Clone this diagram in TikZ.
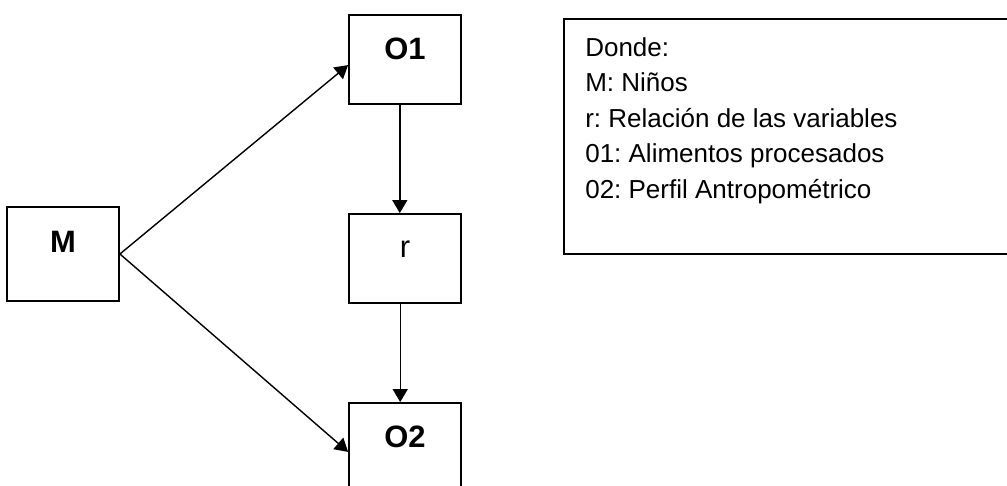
\documentclass[tikz,border=0pt]{standalone}
\usepackage{fontspec}
\setmainfont{Liberation Sans}
\usetikzlibrary{arrows.meta, positioning}
\frenchspacing

\tikzset{
  box/.style={draw, line width=1.3pt, minimum width=2.8cm, inner sep=0pt,
    font=\fontsize{22}{26}\selectfont},
  arr/.style={line width=1pt, -{Triangle[length=0.325cm, width=0.375cm]}},
  legendbox/.style={draw, line width=1.3pt, anchor=north west,
    minimum width=11.225cm, minimum height=5.875cm},
}

\begin{document}
\begin{tikzpicture}
\clip (0,0) rectangle (25.175,12.125);

\node[box, text height=1.15cm, text depth=1.2cm] (m) at (1.575,5.775) {\textbf{M}};
\node[box, text height=1.125cm, text depth=1.1cm] (o1) at (10.125,10.6375) {\textbf{O1}};
\node[box, text height=1.1cm, text depth=1.125cm] (r) at (10.125,5.6625) {r};
\node[box, text height=1.1cm, text depth=1.125cm] (o2) at (10.125,0.9375) {\textbf{O2}};

\draw[arr]
(m.east) -- ([yshift=-0.14cm]o1.west);
\draw[arr]
(m.east) -- ([yshift=-0.11cm]o2.west);
\draw[arr]
([xshift=-0.13cm]o1.south) -- ([xshift=-0.13cm]r.north);
\draw[arr]
([xshift=-0.12cm]r.south) -- ([xshift=-0.12cm]o2.north);

% leyenda
\node[legendbox] (legend) at (14.075,11.675) {};
\node[anchor=north west, align=left, inner sep=0pt, font=\fontsize{18.5}{25.3}\selectfont]
  (legendtext) at (14.625,11.2)
  {Donde:\\ M: Niños\\ r: Relación de las variables\\ 01: Alimentos procesados\\ 02: Perfil Antropométrico};
\end{tikzpicture}
\end{document}
